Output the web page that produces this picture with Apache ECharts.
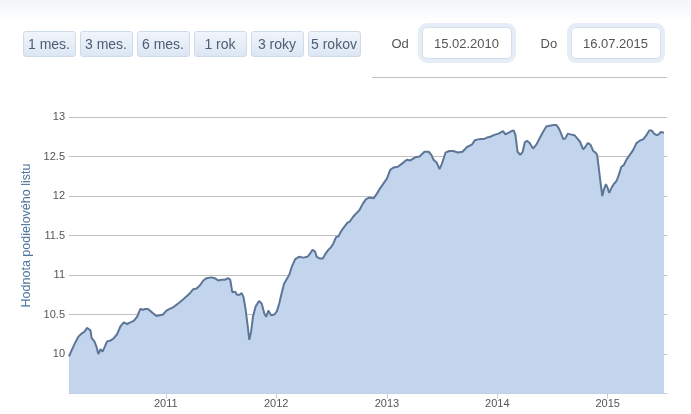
<!DOCTYPE html>
<html>
<head>
<meta charset="utf-8">
<script src="https://cdn.jsdelivr.net/npm/echarts@6/dist/echarts.min.js"></script>
<style>
  html, body { margin: 0; padding: 0; }
  body { width: 691px; height: 414px; overflow: hidden; position: relative;
         background: linear-gradient(#f3f5f8 0px, #ffffff 22px); font-family: "Liberation Sans", Arial, sans-serif; }
  #chart { position: absolute; left: 0; top: 0; width: 691px; height: 414px; }
  .btn { position: absolute; top: 31px; width: 51px; height: 24px; border: 1px solid #cfdbe9; border-radius: 3px;
         background: linear-gradient(#f1f5fb, #dce6f3); color: #4c5d75; font-size: 14px; line-height: 25px;
         text-align: center; white-space: nowrap; }
  .lbl { position: absolute; top: 36px; font-size: 13px; color: #555; }
  .inp { position: absolute; top: 27px; width: 88px; height: 30px; background: #fff; border: 1px solid #d3dfee;
         border-radius: 5px; box-shadow: 0 0 0 4px #e6edf7; color: #555; font-size: 13px; line-height: 31px; text-align: center; }
  .sep { position: absolute; left: 372px; top: 77px; width: 295px; height: 1px; background: #c0c0c0; }
</style>
</head>
<body>
<div id="chart"></div>
<div id="ui"><div class="sep"></div></div>
<script>
// ---- data ----
const rangeButtons = ['1 mes.', '3 mes.', '6 mes.', '1 rok', '3 roky', '5 rokov'];
const fromLabel = 'Od';
const toLabel = 'Do';
const fromDate = '15.02.2010';
const toDate = '16.07.2015';
const axisMin = '2010-02-15';
const axisMax = '2015-07-16';
const yearTicks = [2011, 2012, 2013, 2014, 2015];
const yAxisTitle = 'Hodnota podielového listu';

const dates = [
'2010-02-15','2010-02-24','2010-03-07','2010-03-18','2010-03-29','2010-04-07','2010-04-15','2010-04-20','2010-04-27','2010-05-01',
'2010-05-10','2010-05-17','2010-05-23','2010-05-30','2010-06-06','2010-06-12','2010-06-21','2010-07-02','2010-07-13','2010-07-24',
'2010-08-04','2010-08-15','2010-08-26','2010-09-06','2010-09-17','2010-09-28','2010-10-09','2010-10-18','2010-10-25','2010-11-03',
'2010-11-12','2010-11-22','2010-12-01','2010-12-12','2010-12-23','2011-01-03','2011-01-14','2011-01-25','2011-02-11','2011-02-27',
'2011-03-11','2011-03-22','2011-04-02','2011-04-13','2011-04-24','2011-05-05','2011-05-16','2011-06-01','2011-06-12','2011-06-23',
'2011-07-05','2011-07-15','2011-07-26','2011-08-02','2011-08-09','2011-08-18','2011-08-24','2011-09-02','2011-09-09','2011-09-15',
'2011-09-22','2011-09-29','2011-10-04','2011-10-10','2011-10-16','2011-10-25','2011-11-05','2011-11-14','2011-11-23','2011-11-29',
'2011-12-06','2011-12-15','2011-12-26','2012-01-03','2012-01-11','2012-01-19','2012-01-27','2012-02-05','2012-02-13','2012-02-22',
'2012-03-04','2012-03-16','2012-03-31','2012-04-13','2012-04-22','2012-04-30','2012-05-08','2012-05-14','2012-05-23','2012-06-03',
'2012-06-12','2012-06-22','2012-06-30','2012-07-08','2012-07-17','2012-07-25','2012-08-02','2012-08-13','2012-08-23','2012-09-01',
'2012-09-12','2012-09-24','2012-10-02','2012-10-13','2012-10-24','2012-11-04','2012-11-18','2012-11-29','2012-12-10','2012-12-21',
'2013-01-01','2013-01-12','2013-01-23','2013-02-06','2013-02-20','2013-03-08','2013-03-19','2013-04-05','2013-04-19','2013-05-05',
'2013-05-19','2013-05-28','2013-06-04','2013-06-15','2013-06-24','2013-07-02','2013-07-14','2013-07-26','2013-08-08','2013-08-24',
'2013-09-08','2013-09-23','2013-10-09','2013-10-20','2013-11-04','2013-11-17','2013-11-28','2013-12-09','2013-12-20','2014-01-05',
'2014-01-20','2014-01-28','2014-02-11','2014-02-24','2014-03-02','2014-03-09','2014-03-18','2014-03-26','2014-04-02','2014-04-09',
'2014-04-18','2014-04-29','2014-05-10','2014-05-21','2014-06-01','2014-06-12','2014-06-23','2014-07-07','2014-07-15','2014-07-23',
'2014-07-31','2014-08-07','2014-08-14','2014-08-22','2014-08-31','2014-09-06','2014-09-13','2014-09-22','2014-10-01','2014-10-12',
'2014-10-19','2014-10-27','2014-11-05','2014-11-14','2014-11-22','2014-11-27','2014-12-02','2014-12-08','2014-12-14','2014-12-19',
'2014-12-26','2015-01-01','2015-01-06','2015-01-13','2015-01-21','2015-01-30','2015-02-07','2015-02-15','2015-02-23','2015-03-04',
'2015-03-15','2015-03-26','2015-04-06','2015-04-17','2015-04-29','2015-05-09','2015-05-18','2015-05-26','2015-06-03','2015-06-12',
'2015-06-19','2015-06-25','2015-07-06'
];

const values = [
9.97,10.05,10.14,10.22,10.26,10.28,10.33,10.34,10.30,10.20,
10.16,10.09,10.00,10.06,10.03,10.08,10.16,10.17,10.20,10.25,
10.35,10.40,10.38,10.40,10.42,10.47,10.57,10.56,10.57,10.57,
10.54,10.51,10.48,10.49,10.50,10.55,10.57,10.59,10.64,10.69,
10.73,10.77,10.82,10.83,10.87,10.93,10.96,10.97,10.96,10.93,
10.94,10.94,10.96,10.94,10.78,10.79,10.75,10.75,10.77,10.72,
10.56,10.35,10.18,10.28,10.47,10.60,10.67,10.64,10.51,10.47,
10.55,10.49,10.50,10.54,10.64,10.77,10.89,10.95,11.00,11.11,
11.20,11.23,11.22,11.23,11.27,11.32,11.30,11.23,11.21,11.21,
11.27,11.32,11.35,11.40,11.48,11.49,11.55,11.61,11.66,11.68,
11.74,11.79,11.82,11.90,11.96,11.98,11.97,12.03,12.10,12.16,
12.22,12.33,12.36,12.37,12.41,12.46,12.45,12.49,12.50,12.56,
12.56,12.52,12.46,12.42,12.34,12.41,12.55,12.57,12.57,12.55,
12.56,12.62,12.65,12.71,12.72,12.72,12.74,12.75,12.77,12.79,
12.82,12.78,12.81,12.83,12.77,12.56,12.52,12.56,12.68,12.70,
12.67,12.60,12.65,12.73,12.81,12.88,12.89,12.90,12.90,12.86,
12.79,12.72,12.73,12.79,12.78,12.76,12.77,12.73,12.69,12.59,
12.62,12.67,12.65,12.57,12.55,12.52,12.37,12.18,12.00,12.08,
12.15,12.10,12.04,12.10,12.15,12.19,12.27,12.37,12.39,12.46,
12.52,12.58,12.67,12.70,12.72,12.77,12.83,12.83,12.79,12.77,
12.78,12.81,12.80
];

// ---- UI (range selector) ----
const ui = document.getElementById('ui');
rangeButtons.forEach((t, i) => {
  const d = document.createElement('div');
  d.className = 'btn';
  d.style.left = (22.5 + i * 57) + 'px';
  d.textContent = t;
  ui.appendChild(d);
});
function addLabel(text, left) {
  const d = document.createElement('div'); d.className = 'lbl'; d.style.left = left + 'px'; d.textContent = text; ui.appendChild(d);
}
function addInput(text, left) {
  const d = document.createElement('div'); d.className = 'inp'; d.style.left = left + 'px'; d.textContent = text; ui.appendChild(d);
}
addLabel(fromLabel, 391.5);
addInput(fromDate, 421.5);
addLabel(toLabel, 540.5);
addInput(toDate, 570.5);

// ---- chart ----
function ts(s) { const p = s.split('-').map(Number); return Date.UTC(p[0], p[1] - 1, p[2]); }
const chart = echarts.init(document.getElementById('chart'), null, { renderer: 'canvas' });
const seriesData = dates.map((d, i) => [ts(d), values[i]]);
const yearTs = yearTicks.map(y => Date.UTC(y, 0, 1));
const font = '"Liberation Sans", Arial, sans-serif';

chart.setOption({
  animation: false,
  grid: { left: 69, right: 24, top: 77.5, bottom: 20.5, containLabel: false },
  xAxis: {
    type: 'value',
    min: ts(axisMin),
    max: ts(axisMax),
    axisLine: { show: true, lineStyle: { color: '#c0d0e0', width: 1 } },
    axisTick: { show: true, customValues: yearTs, length: 5, lineStyle: { color: '#c0d0e0' } },
    axisLabel: {
      customValues: yearTs,
      formatter: v => String(new Date(v).getUTCFullYear()),
      color: '#555', fontSize: 11, fontFamily: font, margin: 5
    },
    splitLine: { show: false }
  },
  yAxis: {
    type: 'value',
    min: 9.5, max: 13.5, interval: 0.5,
    name: yAxisTitle,
    nameLocation: 'middle',
    nameGap: 24,
    nameTextStyle: { color: '#4d759e', fontSize: 12.5, fontFamily: font },
    axisLine: { show: false },
    axisTick: { show: false },
    axisLabel: {
      color: '#555', fontSize: 11, fontFamily: font, margin: 4,
      formatter: v => (v >= 10 && v <= 13) ? String(v) : ''
    },
    splitLine: { show: true, showMaxLine: false, lineStyle: { color: '#c0c0c0', width: 1 } }
  },
  series: [{
    type: 'line',
    data: seriesData,
    symbol: 'none',
    smooth: false,
    lineStyle: { color: '#5d7697', width: 2 },
    areaStyle: { color: '#c3d5ec', opacity: 1 }
  }]
});
</script>
</body>
</html>
